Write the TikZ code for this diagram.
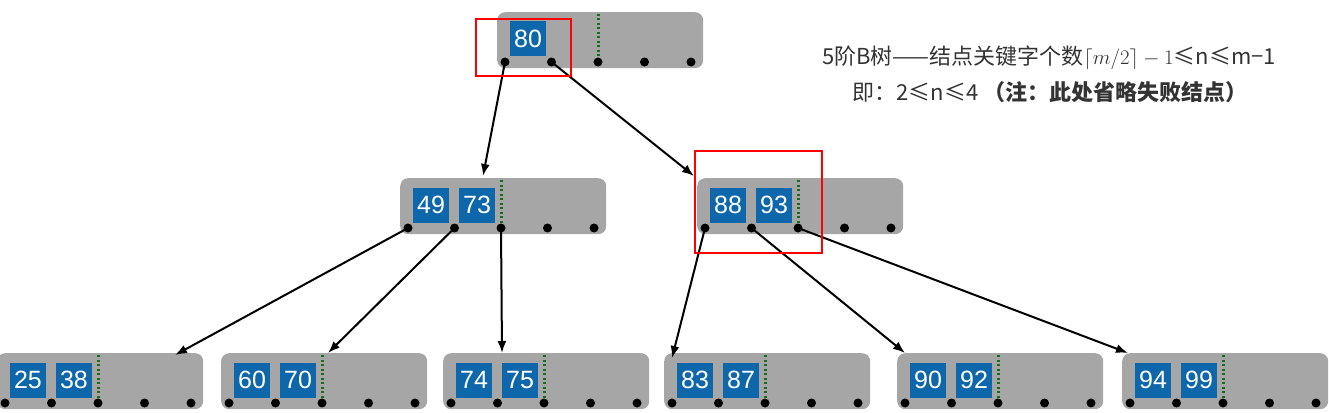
\documentclass[tikz,border=0pt]{standalone}
\usepackage{fontspec}
\setmainfont{Liberation Sans}
\newfontfamily\cjk{Noto Sans CJK SC}
\usetikzlibrary{calc}
\usetikzlibrary{arrows.meta}
\tikzset{>={Latex[length=12pt,width=9pt]}}
\definecolor{keyblue}{RGB}{14,102,171}
\definecolor{boxgray}{RGB}{166,166,166}
\definecolor{ptrgreen}{RGB}{20,110,30}
\tikzset{
  bbox/.style={fill=boxgray, rounded corners=8pt, minimum width=206pt, minimum height=56pt, inner sep=0pt},
  keybox/.style={fill=keyblue, text=white, minimum width=36pt, minimum height=35pt, inner sep=0pt, font=\fontsize{25}{25}\selectfont},
  ptr/.style={circle, fill=black, minimum size=9pt, inner sep=0pt},
  link/.style={->, line width=2pt},
  markbox/.style={draw=red, line width=2pt},
  note/.style={font=\cjk\fontsize{22}{22}\selectfont, text=black!80}
}
% one B-tree node: name, left, top, keys
\newcommand\bnode[4]{%
  \begin{scope}[shift={(#2,#3)}]
    \node[bbox, anchor=north west] (#1) at (0,0) {};
    \foreach \k [count=\i] in {#4}
      \node[keybox] (#1-k\i) at ({-15+46*\i},27) {\k};
    \draw[ptrgreen, line width=2.4pt, dash pattern=on 2pt off 2.5pt] (101.5,2) -- (101.5,47);
    \foreach \j in {1,...,5}
      \node[ptr] (#1-p\j) at ({8+46.5*(\j-1)},50) {};
  \end{scope}}

\begin{document}
\begin{tikzpicture}[x=1pt,y=-1pt]
  \useasboundingbox (0,0) rectangle (1329,412);
  % nodes
  \bnode{root}{497}{12}{80}
  \bnode{la}{400}{178}{49,73}
  \bnode{lb}{697}{178}{88,93}
  \bnode{fa}{-3}{353}{25,38}
  \bnode{fb}{221}{353}{60,70}
  \bnode{fc}{443}{353}{74,75}
  \bnode{fd}{664}{353}{83,87}
  \bnode{fe}{897}{353}{90,92}
  \bnode{ff}{1122}{353}{94,99}
  % pointers
  \draw[link] (root-p1.center) -- ($(la.north west)+(83,-2)$);
  \draw[link] (root-p2.center) -- ($(lb.north west)+(-3,-2)$);
  \draw[link] (la-p1.center) -- ($(fa.north west)+(178,2)$);
  \draw[link] (la-p2.center) -- ($(fb.north west)+(107,0)$);
  \draw[link] (la-p3.center) -- ($(fc.north west)+(59,0)$);
  \draw[link] (lb-p1.center) -- ($(fd.north west)+(8,5)$);
  \draw[link] (lb-p2.center) -- ($(fe.north west)+(8,0)$);
  \draw[link] (lb-p3.center) -- ($(ff.north west)+(6,0)$);
  % marks
  \node[markbox, minimum width=95pt, minimum height=57pt, anchor=north west] (markroot) at (475,18) {};
  \node[markbox, minimum width=127pt, minimum height=102pt, anchor=north west] (markright) at (694,150) {};
  % notes
  \node[note] (rule) at (1049,58) {5阶B树——结点关键字个数$\lceil m/2\rceil-1$≤n≤m−1};
  \node[note] (range) at (1050,92) {即：2≤n≤4 {\bfseries （注：此处省略失败结点）}};
\end{tikzpicture}
\end{document}
